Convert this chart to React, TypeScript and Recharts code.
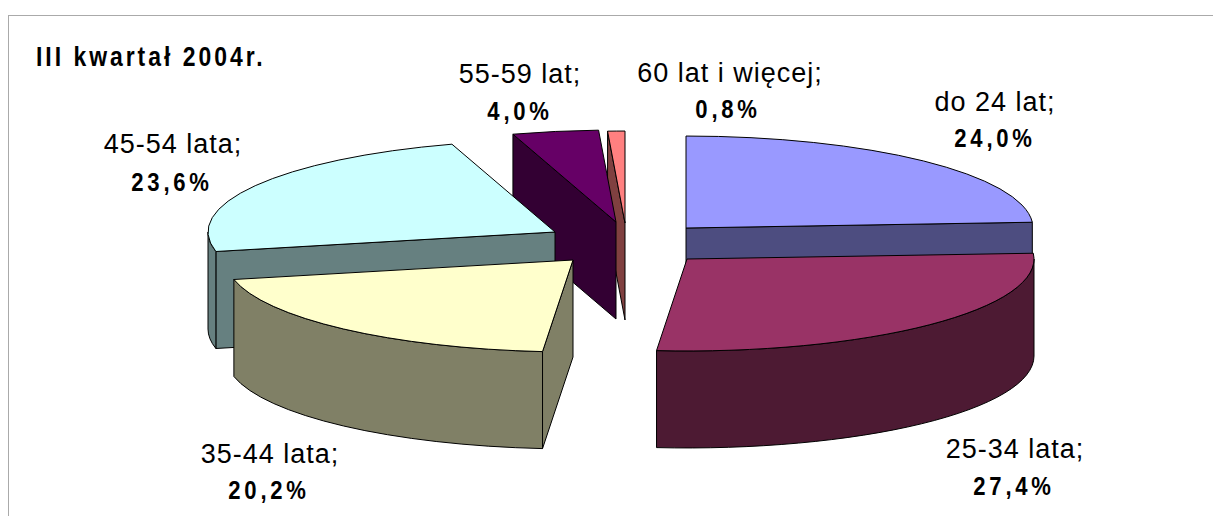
import { PieChart, Pie } from "recharts";

const categories = ["do 24 lat", "60 lat i więcej", "55-59 lat", "45-54 lata", "35-44 lata", "25-34 lata"];
const shares = [24.0, 0.8, 4.0, 23.6, 20.2, 27.4];

// top face and shaded side of each slice
const topColors = ["#9999FF", "#FF8080", "#660066", "#CCFFFF", "#FFFFCC", "#993366"];
const sideColors = ["#4D4D80", "#804040", "#330033", "#668080", "#808066", "#4D1A33"];

// how far each slice is pulled out, in pixels
const explodeX = [61, 0, -9, -70, -52, 62];
const explodeY = [-17, -22, -23, -13, 15, 14];

// label anchors: centre x and baseline of each line
const nameX = [995, 730, 520, 173, 270, 1015];
const nameY = [111, 82, 83, 153, 463, 458];
const pctX = [995, 728, 520, 172, 269, 1014];
const pctY = [147, 118, 120, 191, 499, 495];

const tableData = categories.map((name, i) => ({ name, value: shares[i] }));

const SQUASH = 0.265;
const DEPTH = 97;

const fmt = (v: number) => v.toFixed(1).replace(".", ",") + "%";

function Slice3D(props: any) {
  const { cx, cy, outerRadius, startAngle, endAngle, name } = props;
  const i = categories.indexOf(name);
  const ox = cx + explodeX[i];
  const oy = cy + explodeY[i];
  const a0 = Math.min(startAngle, endAngle);
  const a1 = Math.max(startAngle, endAngle);
  const px = (a: number) => ox + outerRadius * Math.cos((a * Math.PI) / 180);
  const py = (a: number) => oy - outerRadius * SQUASH * Math.sin((a * Math.PI) / 180);
  const arc = (from: number, to: number, dy: number, move: boolean) => {
    const large = Math.abs(to - from) > 180 ? 1 : 0;
    const sweep = to > from ? 0 : 1;
    const head = `${move ? "M" : "L"}${px(from)},${py(from) + dy}`;
    return `${head} A${outerRadius},${outerRadius * SQUASH} 0 ${large} ${sweep} ${px(to)},${py(to) + dy}`;
  };
  const cut = (a: number) =>
    `M${ox},${oy} L${px(a)},${py(a)} L${px(a)},${py(a) + DEPTH} L${ox},${oy + DEPTH} Z`;
  const faces: string[] = [];
  // radial cuts, only those turned towards the viewer
  if (Math.sin(((a1 + 90) * Math.PI) / 180) < 0) faces.push(cut(a1));
  if (Math.sin(((a0 - 90) * Math.PI) / 180) < 0) faces.push(cut(a0));
  // outer wall, front half of the ellipse only
  for (const [lo, hi] of [[180, 360], [540, 720]]) {
    const from = Math.max(a0, lo);
    const to = Math.min(a1, hi);
    if (to > from) faces.push(`${arc(from, to, 0, true)} ${arc(to, from, DEPTH, false)} Z`);
  }
  return (
    <g>
      {faces.map((d, k) => (
        <path key={k} d={d} fill={sideColors[i]} stroke="#000" strokeWidth={1} />
      ))}
      <path d={`M${ox},${oy} ${arc(a0, a1, 0, false)} Z`} fill={topColors[i]} stroke="#000" strokeWidth={1} />
    </g>
  );
}

function SliceLabel(props: any) {
  const i = props.index;
  return (
    <g fontFamily="Liberation Sans" fill="#000">
      <text x={nameX[i]} y={nameY[i]} textAnchor="middle" fontSize={27} letterSpacing={1}>
        {categories[i]};
      </text>
      <text
        transform={`translate(${pctX[i]},${pctY[i]}) scale(0.85,1)`}
        textAnchor="middle"
        fontSize={26}
        fontWeight="bold"
        letterSpacing={4.4}
      >
        {fmt(shares[i])}
      </text>
    </g>
  );
}

export default function App() {
  return (
    <div style={{ position: "absolute", left: 0, top: 0, width: 1213, height: 516, overflow: "hidden", background: "#fff" }}>
      <div style={{ position: "absolute", left: 8, top: 15, width: 1205, height: 501, borderTop: "1px solid #aaa", borderLeft: "1px solid #aaa" }} />
      <div
        style={{
          position: "absolute",
          left: 36,
          top: 42,
          fontFamily: "Liberation Sans",
          fontWeight: "bold",
          fontSize: 27,
          letterSpacing: 3.5,
          whiteSpace: "nowrap",
          transform: "scaleX(0.85)",
          transformOrigin: "left top",
        }}
      >
        III kwartał 2004r.
      </div>
      <div style={{ position: "absolute", left: 0, top: 0 }}>
        <PieChart width={1213} height={516} margin={{ top: 0, right: 0, bottom: 0, left: 0 }}>
          <Pie
            data={tableData}
            dataKey="value"
            nameKey="name"
            cx={625}
            cy={245}
            outerRadius={347}
            startAngle={3.6}
            endAngle={363.6}
            shape={Slice3D}
            label={SliceLabel}
            labelLine={false}
            isAnimationActive={false}
          />
        </PieChart>
      </div>
    </div>
  );
}
